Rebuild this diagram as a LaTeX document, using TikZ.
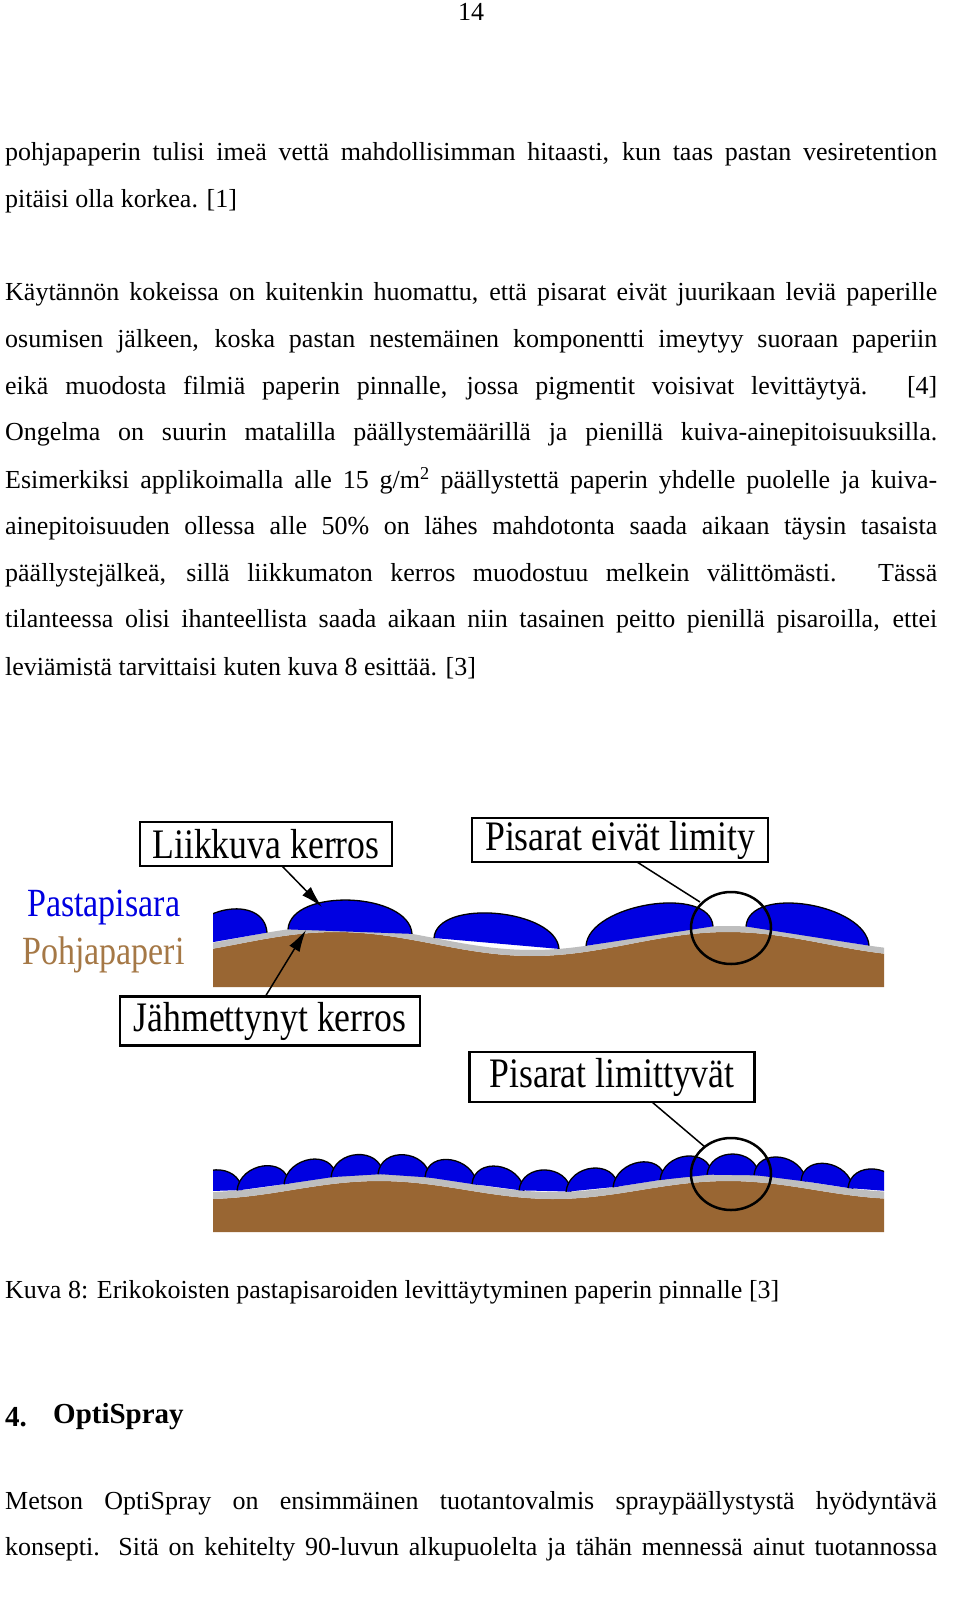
\documentclass[tikz,border=0pt]{standalone}
\usepackage{fontspec}
\setmainfont{Liberation Serif}
\usetikzlibrary{arrows.meta}
\definecolor{bluec}{RGB}{0,0,225}
\definecolor{brownc}{RGB}{153,102,51}
\definecolor{browntxt}{RGB}{165,120,70}
\definecolor{grayc}{RGB}{190,190,190}
\newcommand\cond[1]{\scalebox{0.85}[1]{#1}}
\begin{document}
\begin{tikzpicture}[x=1pt,y=-1pt,
  txt/.style={anchor=west,inner sep=0pt,font=\fontsize{26}{28}\selectfont},
  lbl/.style={draw=black,line width=2.5pt,fill=white,inner sep=2pt,font=\fontsize{42}{44}\selectfont},
  declare function={ft(\x)=944-12*cos((\x-336)/392*360); fb(\x)=1190-9*cos((\x-379)/349*360);}]
\useasboundingbox (0,0) rectangle (960,1602);
\fill[white] (0,0) rectangle (960,1602);
\node[txt,anchor=center] (pg) at (471,12) {14};
\def\J#1#2#3{\node[txt] (#1) at (5,#2) {\makebox[932pt][s]{#3}};}
\def\L#1#2#3{\node[txt] (#1) at (5,#2) {#3};}
\J{l1}{154}{pohjapaperin tulisi imeä vettä mahdollisimman hitaasti, kun taas pastan vesiretention}
\L{l2}{201}{pitäisi olla korkea. [1]}
\J{l3}{294}{Käytännön kokeissa on kuitenkin huomattu, että pisarat eivät juurikaan leviä paperille}
\J{l4}{341}{osumisen jälkeen, koska pastan nestemäinen komponentti imeytyy suoraan paperiin}
\J{l5}{388}{eikä muodosta filmiä paperin pinnalle, jossa pigmentit voisivat levittäytyä. [4]}
\J{l6}{434}{Ongelma on suurin matalilla päällystemäärillä ja pienillä kuiva-ainepitoisuuksilla.}
\J{l7}{481}{Esimerkiksi applikoimalla alle 15 g/m\textsuperscript{2} päällystettä paperin yhdelle puolelle ja kuiva-}
\J{l8}{528}{ainepitoisuuden ollessa alle 50\% on lähes mahdotonta saada aikaan täysin tasaista}
\J{l9}{575}{päällystejälkeä, sillä liikkumaton kerros muodostuu melkein välittömästi. Tässä}
\J{l10}{621}{tilanteessa olisi ihanteellista saada aikaan niin tasainen peitto pienillä pisaroilla, ettei}
\L{l11}{668}{leviämistä tarvittaisi kuten kuva 8 esittää. [3]}
\L{cap}{1292}{Kuva 8: Erikokoisten pastapisaroiden levittäytyminen paperin pinnalle [3]}
\node[txt,font=\fontsize{29}{32}\selectfont\bfseries] (h1) at (5,1417) {4.};
\node[txt,font=\fontsize{29}{32}\selectfont\bfseries] (h2) at (53,1417) {OptiSpray};
\J{m1}{1503}{Metson OptiSpray on ensimmäinen tuotantovalmis spraypäällystystä hyödyntävä}
\J{m2}{1549}{konsepti. Sitä on kehitelty 90-luvun alkupuolelta ja tähän mennessä ainut tuotannossa}
% ---- top figure
\fill[brownc] plot[domain=213:884,samples=90] (\x,{ft(\x)}) -- (884,987) -- (213,987) -- cycle;
\fill[grayc] plot[domain=213:884,samples=90] (\x,{ft(\x)-6}) -- plot[domain=884:213,samples=90] (\x,{ft(\x)}) -- cycle;
\begin{scope}
\clip (213,850) rectangle (884,990);
\foreach \a/\b/\h in {185/267/40, 288/412/42, 434/559/40, 586/713/42, 746/869/42}{
  \fill[bluec] (\a,{ft(\a)-6}) .. controls (\a+3,{ft(\a)-6-\h}) and (\b-3,{ft(\b)-6-\h}) .. (\b,{ft(\b)-6}) -- cycle;
  \draw[line width=1.3pt] (\a,{ft(\a)-6}) .. controls (\a+3,{ft(\a)-6-\h}) and (\b-3,{ft(\b)-6-\h}) .. (\b,{ft(\b)-6});
}
\end{scope}
\draw[line width=2.5pt] (731,928) ellipse [x radius=40,y radius=36];
\coordinate (c1) at (700,902);
\coordinate (d2) at (322,907);
\coordinate (g2) at (306,930);
\node[lbl,minimum width=252pt,minimum height=44pt] (b1) at (266,844) {\cond{Liikkuva kerros}};
\node[lbl,minimum width=296pt,minimum height=44pt] (b2) at (620,840) {\cond{Pisarat eivät limity}};
\node[lbl,minimum width=300pt,minimum height=49pt] (b3) at (270,1021) {\cond{Jähmettynyt kerros}};
\node[lbl,minimum width=285pt,minimum height=50pt] (b4) at (612,1077) {\cond{Pisarat limittyvät}};
\node[font=\fontsize{40}{42}\selectfont,text=bluec,anchor=west,inner sep=0pt] (t1) at (27,908) {\cond{Pastapisara}};
\node[font=\fontsize{40}{42}\selectfont,text=browntxt,anchor=west,inner sep=0pt] (t2) at (22,955) {\cond{Pohjapaperi}};
\draw[line width=1.5pt,-{Latex[length=22pt,width=12pt]}] (282,866) -- (d2);
\draw[line width=1.5pt,-{Latex[length=22pt,width=12pt]}] (265,997) -- (g2);
\draw[line width=1.5pt] (637,862) -- (c1);
% ---- bottom figure
\fill[brownc] plot[domain=213:884,samples=90] (\x,{fb(\x)}) -- (884,1232) -- (213,1232) -- cycle;
\fill[grayc] plot[domain=213:884,samples=90] (\x,{fb(\x)-7}) -- plot[domain=884:213,samples=90] (\x,{fb(\x)}) -- cycle;
\begin{scope}
\clip (213,1100) rectangle (884,1235);
\foreach \a in {190,237,284,331,378,425,472,519,566,613,660,707,754,801,848}{
  \pgfmathsetmacro\b{\a+52}
  \fill[bluec] (\a,{fb(\a)-7}) .. controls (\a+3,{fb(\a)-35}) and (\b-3,{fb(\b)-35}) .. (\b,{fb(\b)-7}) -- cycle;
  \draw[line width=1.3pt] (\a,{fb(\a)-7}) .. controls (\a+3,{fb(\a)-35}) and (\b-3,{fb(\b)-35}) .. (\b,{fb(\b)-7});
}
\end{scope}
\draw[line width=2.5pt] (731,1174) ellipse [x radius=40,y radius=36];
\coordinate (c2) at (705,1147);
\draw[line width=1.5pt] (652,1102) -- (c2);
\end{tikzpicture}
\end{document}
